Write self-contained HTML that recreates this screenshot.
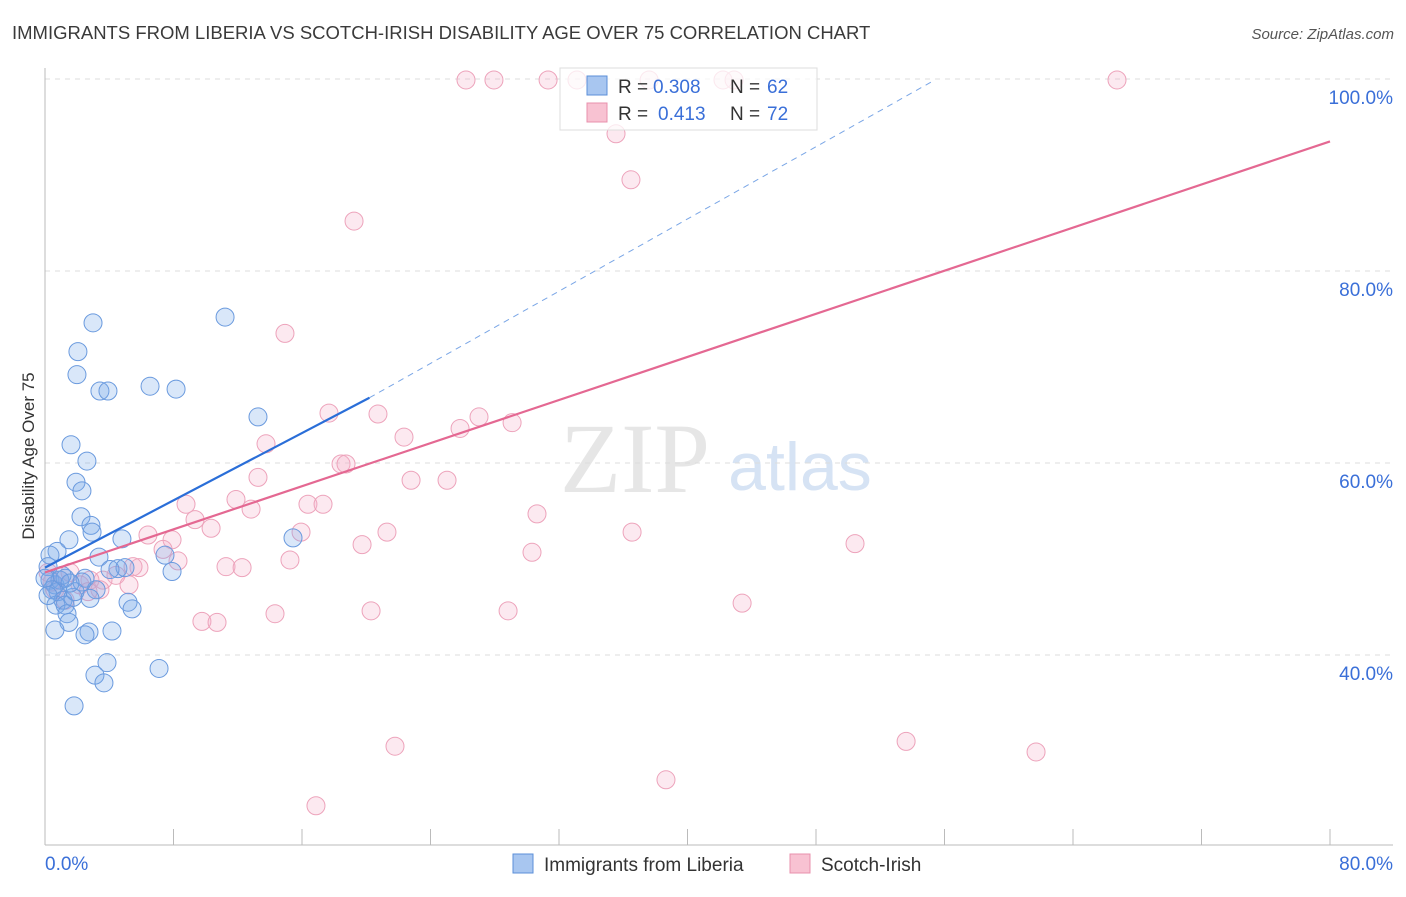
<!DOCTYPE html>
<html><head><meta charset="utf-8"><style>
body{margin:0;background:#fff;font-family:"Liberation Sans",sans-serif;}
svg text{font-family:"Liberation Sans",sans-serif;}
</style></head><body>
<svg id="chart" width="1406" height="892" xmlns="http://www.w3.org/2000/svg">
<text x="12" y="39" font-size="18.5" fill="#3a3a3a">IMMIGRANTS FROM LIBERIA VS SCOTCH-IRISH DISABILITY AGE OVER 75 CORRELATION CHART</text>
<text x="1394" y="39" font-size="15" fill="#555" text-anchor="end" font-style="italic">Source: ZipAtlas.com</text>
<g><text x="635" y="492" font-size="100" fill="#e6e6e6" text-anchor="middle" style="font-family:'Liberation Serif',serif">ZIP</text><text x="800" y="490" font-size="68" fill="#d6e3f4" text-anchor="middle">atlas</text></g>
<g id="grid"></g><g id="axes"></g><g id="marks"></g>
<text transform="translate(34,456) rotate(-90)" font-size="17" fill="#333" text-anchor="middle">Disability Age Over 75</text>
<g>
<rect x="560" y="68" width="257" height="62" fill="rgba(255,255,255,0.75)" stroke="#ddd"/>
<rect x="587" y="76" width="20" height="19" fill="#a8c6f0" stroke="#5b8fd8"/>
<text x="618" y="93" font-size="19" fill="#333">R =</text><text x="653" y="93" font-size="19" fill="#3a6fd8">0.308</text><text x="730" y="93" font-size="19" fill="#333">N =</text><text x="767" y="93" font-size="19" fill="#3a6fd8">62</text>
<rect x="587" y="103" width="20" height="19" fill="#f8c2d2" stroke="#e890ac"/>
<text x="618" y="120" font-size="19" fill="#333">R =</text><text x="658" y="120" font-size="19" fill="#3a6fd8">0.413</text><text x="730" y="120" font-size="19" fill="#333">N =</text><text x="767" y="120" font-size="19" fill="#3a6fd8">72</text>
</g>
<g>
<rect x="513" y="854" width="20" height="19" fill="#a8c6f0" stroke="#5b8fd8"/>
<text x="544" y="871" font-size="19" fill="#333">Immigrants from Liberia</text>
<rect x="790" y="854" width="20" height="19" fill="#f8c2d2" stroke="#e890ac"/>
<text x="821" y="871" font-size="19" fill="#333">Scotch-Irish</text>
</g>
</svg>
<script>
const yTicks=[40,60,80,100];
const yTickLabels=["40.0%","60.0%","80.0%","100.0%"];
const xTickVals=[0,8,16,24,32,40,48,56,64,72,80];
const blueX=[2.99,2.05,1.99,3.42,3.92,6.54,8.16,11.21,13.26,1.62,2.61,1.93,2.30,2.24,2.86,2.93,4.79,3.36,1.49,0.75,0.31,7.47,7.91,15.44,0.19,0.31,0.62,0.93,1.25,0.81,0.44,1.12,1.74,2.49,3.18,4.54,4.98,0.68,1.25,1.37,1.49,0.62,2.74,4.17,2.49,2.80,5.17,5.42,3.86,3.11,3.67,7.10,1.81,0,1.87,2.30,4.05,0.19,1.06,1.56];
const blueY=[74.6,71.6,69.2,67.5,67.5,68.0,67.7,75.2,64.8,61.9,60.2,58.0,57.1,54.4,53.5,52.8,52.1,50.2,52.0,50.8,50.4,50.4,48.7,52.2,49.2,47.8,47.3,47.8,48.0,46.6,46.8,45.7,46.0,48.0,46.8,49.0,49.1,45.2,45.2,44.3,43.4,42.6,42.4,42.5,42.1,45.9,45.5,44.8,39.2,37.9,37.1,38.6,34.7,48.0,46.6,47.6,48.9,46.2,48.3,47.5];
const pinkX=[26.21,27.95,31.32,33.12,37.61,42.21,42.90,66.74,35.55,36.48,19.24,14.94,17.68,20.73,27.02,29.08,25.84,22.35,13.76,18.43,18.74,13.26,22.79,25.03,11.89,8.78,16.37,17.31,12.83,9.34,10.34,30.63,36.55,21.29,15.94,6.41,7.91,19.74,50.43,30.32,7.35,8.28,15.25,11.27,12.27,5.85,5.48,4.42,3.61,2.80,2.18,0.93,0.62,3.42,5.23,43.40,20.30,28.83,14.32,9.77,10.71,21.79,53.61,61.70,38.66,16.87,0.19,1.56,2.68,1.25,0.44];
const pinkY=[99.9,99.9,99.9,99.9,99.9,99.9,99.9,99.9,94.3,89.5,85.2,73.5,65.2,65.1,64.8,64.2,63.6,62.7,62.0,59.9,59.9,58.5,58.2,58.2,56.2,55.7,55.7,55.7,55.2,54.1,53.2,54.7,52.8,52.8,52.8,52.5,52.0,51.5,51.6,50.7,51.0,49.8,49.9,49.2,49.1,49.1,49.2,48.3,47.8,47.8,47.3,47.8,46.8,46.8,47.3,45.4,44.6,44.6,44.3,43.5,43.4,30.5,31.0,29.9,27.0,24.3,48.6,48.6,46.6,45.7,47.6];
const blueTrendX=[0,20.2];
const blueTrendY=[49.1,66.8];
const blueDashX=[20.2,55.4];
const blueDashY=[66.8,99.9];
const pinkTrendX=[0,80];
const pinkTrendY=[48.6,93.5];

const NS="http://www.w3.org/2000/svg";
const xs=v=>45+v*(1285/80);
const ys=v=>79+(100-v)*9.6;
function mk(tag,attrs,parent){const e=document.createElementNS(NS,tag);for(const k in attrs)e.setAttribute(k,attrs[k]);parent.appendChild(e);return e;}
const grid=document.getElementById('grid'),axes=document.getElementById('axes'),marks=document.getElementById('marks');
yTicks.forEach((t,i)=>{
 const l=mk('line',{x1:45,x2:1393,y1:ys(t),y2:ys(t),stroke:'#dcdcdc','stroke-dasharray':'5,5'},grid);
 
 
 const tx=mk('text',{x:1393,y:ys(t)+25,'font-size':19,fill:'#3a6fd8','text-anchor':'end'},grid);
 tx.textContent=yTickLabels[i];
 
 
});
const ax=mk('line',{x1:45,x2:45,y1:68,y2:845,stroke:'#bbb'},axes);


const bx=mk('line',{x1:45,x2:1393,y1:845,y2:845,stroke:'#bbb'},axes);


xTickVals.forEach(v=>{
 const t=mk('line',{x1:xs(v),x2:xs(v),y1:829,y2:845,stroke:'#bbb'},axes);
 
 
});
const xl0=mk('text',{x:45,y:870,'font-size':19,fill:'#3a6fd8'},axes);xl0.textContent='0.0%';


const xl1=mk('text',{x:1393,y:870,'font-size':19,fill:'#3a6fd8','text-anchor':'end'},axes);xl1.textContent='80.0%';


pinkX.forEach((x,i)=>{
 const c=mk('circle',{cx:xs(x),cy:ys(pinkY[i]),r:9,fill:'rgba(245,175,200,0.28)',stroke:'#eda3bb','stroke-width':1},marks);
 
 
});
blueX.forEach((x,i)=>{
 const c=mk('circle',{cx:xs(x),cy:ys(blueY[i]),r:9,fill:'rgba(120,168,232,0.28)',stroke:'#6a9ade','stroke-width':1},marks);
 
 
});
const l1=mk('line',{x1:xs(blueTrendX[0]),y1:ys(blueTrendY[0]),x2:xs(blueTrendX[1]),y2:ys(blueTrendY[1]),stroke:'#2a6ed8','stroke-width':2.2},marks);


const l2=mk('line',{x1:xs(blueDashX[0]),y1:ys(blueDashY[0]),x2:xs(blueDashX[1]),y2:ys(blueDashY[1]),stroke:'#7aa6e6','stroke-width':1,'stroke-dasharray':'6,5'},marks);


const l3=mk('line',{x1:xs(pinkTrendX[0]),y1:ys(pinkTrendY[0]),x2:xs(pinkTrendX[1]),y2:ys(pinkTrendY[1]),stroke:'#e46892','stroke-width':2.2},marks);


</script>
</body></html>
